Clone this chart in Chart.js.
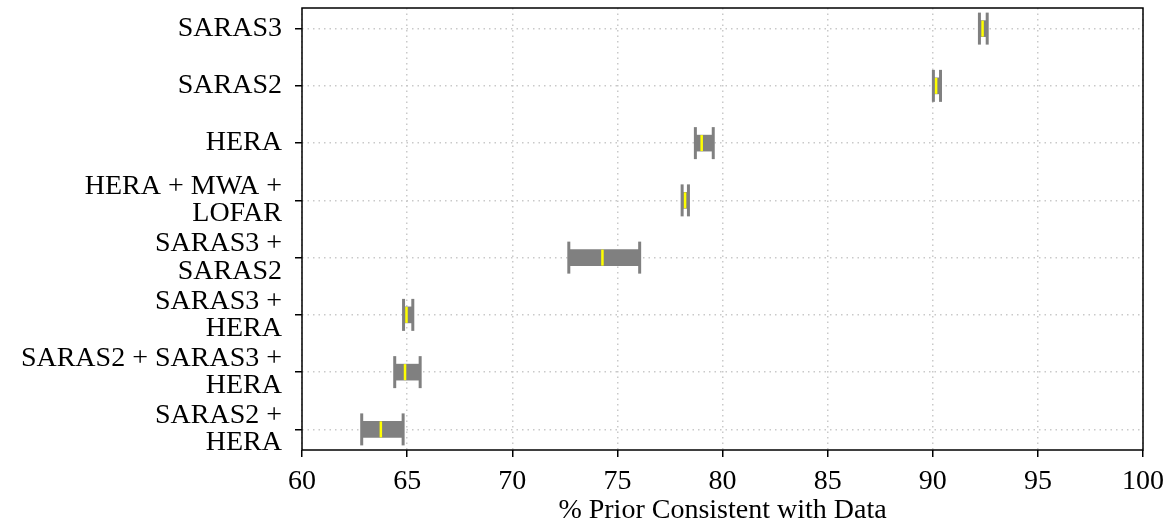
<!DOCTYPE html>
<html>
<head>
<meta charset="utf-8">
<script src="https://cdn.jsdelivr.net/npm/chart.js@4.4.0/dist/chart.umd.min.js"></script>
<style>
  html, body { margin: 0; padding: 0; background: #fff; }
  #wrap { width: 1169px; height: 525px; }
</style>
</head>
<body>
<div id="wrap"><canvas id="chart" width="1169" height="525"></canvas></div>
<script>
// Experiment combinations, top to bottom
const categories = [
	'SARAS3',
	'SARAS2',
	'HERA',
	'HERA + MWA +\nLOFAR',
	'SARAS3 +\nSARAS2',
	'SARAS3 +\nHERA',
	'SARAS2 + SARAS3 +\nHERA',
	'SARAS2 +\nHERA'
];
// % prior consistent with data: lower / upper bound and median
const lows    = [92.22, 90.03, 78.71, 78.08, 72.69, 64.83, 64.41, 62.84];
const highs   = [92.59, 90.37, 79.56, 78.38, 76.06, 65.27, 65.62, 64.81];
const medians = [92.37, 90.16, 79.01, 78.22, 74.29, 64.97, 64.90, 63.75];
const xTicks  = [60, 65, 70, 75, 80, 85, 90, 95, 100];

const GRAY = '#808080';

document.addEventListener('DOMContentLoaded', function() {
	Chart.defaults.font.family = "'Liberation Serif', 'Times New Roman', serif";
	Chart.defaults.font.size = 28;
	Chart.defaults.color = '#000';

	// caps at both ends, yellow median line, and the frame around the plot
	const whiskers = {
		id: 'whiskers',
		afterDatasetsDraw(chart) {
			const { ctx, scales: { x, y }, chartArea: a } = chart;
			ctx.save();
			lows.forEach((lo, i) => {
				const yc = y.getPixelForValue(i);
				ctx.strokeStyle = GRAY;
				ctx.lineWidth = 3;
				[lo, highs[i]].forEach(v => {
					const px = x.getPixelForValue(v);
					ctx.beginPath();
					ctx.moveTo(px, yc - 16);
					ctx.lineTo(px, yc + 16);
					ctx.stroke();
				});
				const pm = x.getPixelForValue(medians[i]);
				ctx.strokeStyle = '#ffff00';
				ctx.lineWidth = 2.5;
				ctx.beginPath();
				ctx.moveTo(pm, yc - 8);
				ctx.lineTo(pm, yc + 8);
				ctx.stroke();
			});
			ctx.strokeStyle = '#000';
			ctx.lineWidth = 1.5;
			ctx.strokeRect(a.left, a.top, a.right - a.left, a.bottom - a.top);
			ctx.restore();
		}
	};

	const ctx = document.getElementById('chart').getContext('2d');
	new Chart(ctx, {
		type: 'bar',
		data: {
			datasets: [{
				data: lows.map((lo, i) => ({ x: [lo, highs[i]], y: i })),
				backgroundColor: GRAY,
				borderWidth: 0,
				barThickness: 16
			}]
		},
		options: {
			indexAxis: 'y',
			responsive: false,
			animation: false,
			layout: { padding: { top: 8, right: 26, left: 0, bottom: 0 } },
			plugins: {
				legend: { display: false },
				tooltip: { enabled: false }
			},
			scales: {
				x: {
					type: 'linear',
					min: 60,
					max: 100,
					afterBuildTicks: s => { s.ticks = xTicks.map(v => ({ value: v })); },
					afterFit: s => { s.height = 75; s.paddingLeft = 0; s.paddingRight = 0; },
					ticks: { padding: 8, maxRotation: 0, autoSkip: false },
					grid: {
						color: '#c9c9c9',
						lineWidth: 1.5,
						tickLength: 7,
						tickColor: '#000',
						tickWidth: 1.5
					},
					border: { display: false, dash: [1.5, 4] },
					title: {
						display: true,
						text: '% Prior Consistent with Data',
						font: { size: 28, lineHeight: 1 },
						padding: { top: 4, bottom: 0 }
					}
				},
				y: {
					type: 'linear',
					min: -0.36,
					max: 7.36,
					reverse: true,
					offset: false,
					afterBuildTicks: s => { s.ticks = categories.map((_, i) => ({ value: i })); },
					afterFit: s => { s.width = 302; s.paddingTop = 0; s.paddingBottom = 0; },
					ticks: {
						padding: 13,
						autoSkip: false,
						font: { size: 28, lineHeight: 0.97 },
						callback: v => (categories[v] || '').split('\n')
					},
					grid: {
						offset: false,
						color: '#c9c9c9',
						lineWidth: 1.5,
						tickLength: 7,
						tickColor: '#000',
						tickWidth: 1.5
					},
					border: { display: false, dash: [1.5, 4] }
				}
			}
		},
		plugins: [whiskers]
	});
});
</script>
</body>
</html>
